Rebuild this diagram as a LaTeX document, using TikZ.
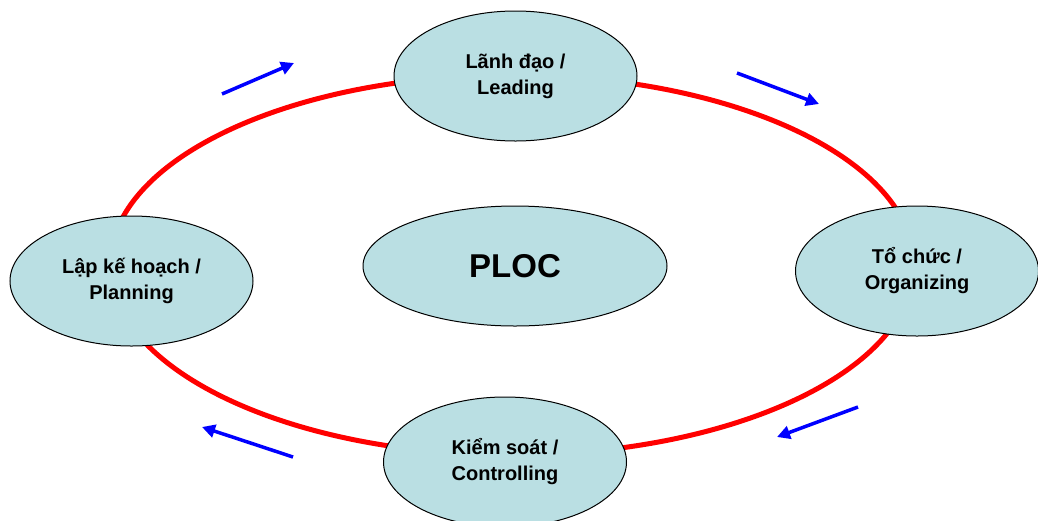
\documentclass[tikz,border=0pt]{standalone}
\usepackage{fontspec}
\setmainfont{Liberation Sans}
\usetikzlibrary{shapes.geometric,arrows.meta}
\definecolor{nodefill}{RGB}{186,223,227}
\tikzset{
  phase/.style={ellipse, draw=black, line width=1pt, fill=nodefill, minimum width=243pt, minimum height=130pt, inner sep=0pt, align=center, font=\fontsize{20}{26}\selectfont\bfseries},
  flow/.style={draw=blue, line width=3.5pt, -{Triangle[length=13pt,width=13pt]}},
  loop/.style={draw=red, line width=5pt}
}
\begin{document}
\begin{tikzpicture}[x=1pt,y=-1pt]
\useasboundingbox (0,0) rectangle (1038,520);
\coordinate (c) at (512,265);
\draw[loop] (c) ellipse [x radius=402pt, y radius=190pt];
\node[phase] (lead) at (515.5,76) {Lãnh đạo /\\ Leading};
\node[phase] (plan) at (131.5,281) {Lập kế hoạch /\\ Planning};
\node[phase] (org) at (917,271) {Tổ chức /\\ Organizing};
\node[phase] (ctrl) at (505,462) {Kiểm soát /\\ Controlling};
\node[phase, minimum width=304pt, minimum height=120pt, font=\fontsize{33}{40}\selectfont\bfseries] (ploc) at (515,266) {PLOC};
\coordinate (a1s) at (222,94); \coordinate (a1e) at (294,63);
\coordinate (a2s) at (737,73); \coordinate (a2e) at (819,104);
\coordinate (a3s) at (858,407); \coordinate (a3e) at (777,437);
\coordinate (a4s) at (293,457); \coordinate (a4e) at (202,427);
\draw[flow] (a1s) -- (a1e);
\draw[flow] (a2s) -- (a2e);
\draw[flow] (a3s) -- (a3e);
\draw[flow] (a4s) -- (a4e);
\end{tikzpicture}
\end{document}
